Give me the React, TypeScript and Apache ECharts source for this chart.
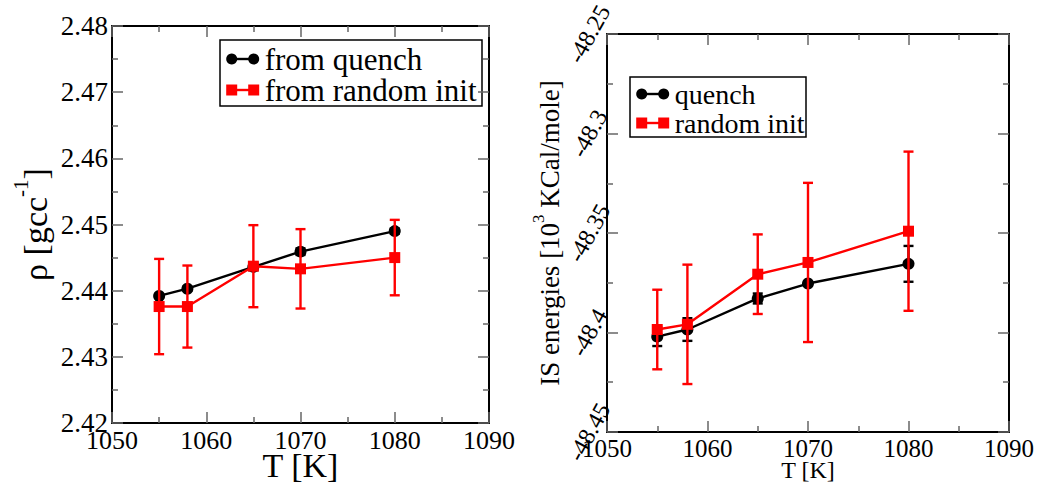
import React, { useEffect, useRef } from "react";
import * as echarts from "echarts";

const temps = [1055, 1058, 1065, 1070, 1080];
const rhoQuench = [2.4392, 2.4403, 2.4436, 2.4459, 2.449];
const rhoQuenchErr = [0.0003, 0.0003, 0.0005, 0.0005, 0.0004];
const rhoRandom = [2.4376, 2.4376, 2.4437, 2.4433, 2.445];
const rhoRandomErr = [0.0072, 0.0062, 0.0062, 0.006, 0.0057];
const eQuench = [-48.4021, -48.3985, -48.3829, -48.3754, -48.3655];
const eQuenchErr = [0.0047, 0.0057, 0.0025, 0.001, 0.009];
const eRandom = [-48.3985, -48.3959, -48.3707, -48.3648, -48.3491];
const eRandomErr = [0.02, 0.03, 0.02, 0.04, 0.04];

const xTicks = { min: 1050, max: 1090, interval: 10 };
const rhoTicks = { min: 2.42, max: 2.48, interval: 0.01 };
const eTicks = { min: -48.45, max: -48.25, interval: 0.05 };

const legendLeft = ["from quench", "from random init"];
const legendRight = ["quench", "random init"];

const FONT = "Liberation Serif";
const TICK = { color: "#666", width: 1.5 };

function axisBase(extra: any) {
  return {
    axisLine: { show: true, onZero: false, lineStyle: { color: "#000", width: 2 } },
    axisTick: { show: true, inside: true, length: 11, lineStyle: TICK },
    minorTick: { show: true, splitNumber: 2, length: 6, lineStyle: TICK },
    splitLine: { show: false },
    nameMoveOverlap: false,
    ...extra,
  };
}

function errSeries(xi: number, yi: number, vals: number[], errs: number[], color: string, z: number) {
  return {
    type: "custom",
    xAxisIndex: xi,
    yAxisIndex: yi,
    z,
    data: temps.map((t, i) => [t, vals[i] - errs[i], vals[i] + errs[i]]),
    encode: { x: 0, y: [1, 2] },
    renderItem: (params: any, api: any) => {
      const x = api.value(0);
      const p1 = api.coord([x, api.value(2)]);
      const p2 = api.coord([x, api.value(1)]);
      const w = 5;
      const st = { stroke: color, lineWidth: 2.4 };
      return {
        type: "group",
        children: [
          { type: "line", shape: { x1: p1[0], y1: p1[1], x2: p2[0], y2: p2[1] }, style: st },
          { type: "line", shape: { x1: p1[0] - w, y1: p1[1], x2: p1[0] + w, y2: p1[1] }, style: st },
          { type: "line", shape: { x1: p2[0] - w, y1: p2[1], x2: p2[0] + w, y2: p2[1] }, style: st },
        ],
      };
    },
  };
}

function lineSeries(xi: number, yi: number, vals: number[], color: string, symbol: string, z: number) {
  return {
    type: "line",
    xAxisIndex: xi,
    yAxisIndex: yi,
    z,
    data: temps.map((t, i) => [t, vals[i]]),
    symbol,
    symbolSize: symbol === "circle" ? 12 : 11,
    showSymbol: true,
    lineStyle: { color, width: 2.4 },
    itemStyle: { color },
  };
}

function legendGraphic(x: number, y: number, w: number, h: number, rows: number[], texts: string[], fontSize: number, symX: number[]) {
  const children: any[] = [
    { type: "rect", shape: { x, y, width: w, height: h }, style: { fill: "#fff", stroke: "#000", lineWidth: 1.5 } },
  ];
  children.push({ type: "line", shape: { x1: symX[0], y1: rows[0], x2: symX[1], y2: rows[0] }, style: { stroke: "#000", lineWidth: 2.4 } });
  children.push({ type: "circle", shape: { cx: symX[0], cy: rows[0], r: 5.5 }, style: { fill: "#000" } });
  children.push({ type: "circle", shape: { cx: symX[1], cy: rows[0], r: 5.5 }, style: { fill: "#000" } });
  children.push({ type: "line", shape: { x1: symX[0], y1: rows[1], x2: symX[1], y2: rows[1] }, style: { stroke: "#f00", lineWidth: 2.4 } });
  children.push({ type: "rect", shape: { x: symX[0] - 5.5, y: rows[1] - 5.5, width: 11, height: 11 }, style: { fill: "#f00" } });
  children.push({ type: "rect", shape: { x: symX[1] - 5.5, y: rows[1] - 5.5, width: 11, height: 11 }, style: { fill: "#f00" } });
  texts.forEach((t, i) => {
    children.push({
      type: "text",
      x: symX[1] + 11,
      y: rows[i],
      style: { text: t, font: `${fontSize}px ${FONT}`, fill: "#000", verticalAlign: "middle", align: "left" },
    });
  });
  return { type: "group", children, z: 100 };
}

export default function App() {
  const ref = useRef<HTMLDivElement>(null);
  useEffect(() => {
    document.body.style.margin = "0";
    const chart = echarts.init(ref.current!, undefined, { renderer: "svg" });
    const labelFont = { fontFamily: FONT, color: "#000" };
    const option: any = {
      animation: false,
      backgroundColor: "#fff",
      textStyle: { fontFamily: FONT },
      grid: [
        { left: 112, top: 26, width: 377, height: 397, outerBoundsMode: "none" },
        { left: 607, top: 34, width: 402, height: 398, outerBoundsMode: "none" },
      ],
      xAxis: [
        axisBase({
          type: "value", gridIndex: 0, position: "bottom", ...xTicks,
          axisLabel: { ...labelFont, fontSize: 26, margin: 4, showMinLabel: true, showMaxLabel: true, formatter: (v: number) => String(v) },
          name: "T [K]", nameLocation: "middle", nameGap: 25,
          nameTextStyle: { ...labelFont, fontSize: 34 },
        }),
        axisBase({ type: "value", gridIndex: 0, position: "top", ...xTicks, axisLabel: { show: false } }),
        axisBase({
          type: "value", gridIndex: 1, position: "bottom", ...xTicks,
          axisLabel: { ...labelFont, fontSize: 25, margin: 4, showMinLabel: true, showMaxLabel: true, formatter: (v: number) => String(v) },
          name: "T [K]", nameLocation: "middle", nameGap: 26,
          nameTextStyle: { ...labelFont, fontSize: 24 },
        }),
        axisBase({ type: "value", gridIndex: 1, position: "top", ...xTicks, axisLabel: { show: false } }),
      ],
      yAxis: [
        axisBase({
          type: "value", gridIndex: 0, position: "left", ...rhoTicks,
          axisLabel: { ...labelFont, fontSize: 27, margin: 4, showMinLabel: true, showMaxLabel: true, formatter: (v: number) => v.toFixed(2) },
          name: "{a|ρ [gcc}{s|-1}{a|]}", nameLocation: "middle", nameGap: 60,
          nameTextStyle: {
            ...labelFont, fontSize: 34,
            rich: {
              a: { fontFamily: FONT, fontSize: 34, color: "#000", lineHeight: 42, verticalAlign: "bottom" },
              s: { fontFamily: FONT, fontSize: 21, color: "#000", verticalAlign: "top" },
            },
          },
        }),
        axisBase({ type: "value", gridIndex: 0, position: "right", ...rhoTicks, axisLabel: { show: false } }),
        axisBase({
          type: "value", gridIndex: 1, position: "left", ...eTicks,
          axisLabel: {
            ...labelFont, fontSize: 24, margin: 18, rotate: 61, align: "center", verticalAlign: "middle",
            showMinLabel: true, showMaxLabel: true,
            formatter: (v: number) => String(parseFloat(v.toFixed(2))),
          },
          name: "{a|IS energies [10}{s|3}{a| KCal/mole]}", nameLocation: "middle", nameGap: 44,
          nameTextStyle: {
            ...labelFont, fontSize: 27,
            rich: {
              a: { fontFamily: FONT, fontSize: 27, color: "#000", lineHeight: 33, verticalAlign: "bottom" },
              s: { fontFamily: FONT, fontSize: 17, color: "#000", verticalAlign: "top" },
            },
          },
        }),
        axisBase({ type: "value", gridIndex: 1, position: "right", ...eTicks, axisLabel: { show: false } }),
      ],
      series: [
        lineSeries(0, 0, rhoQuench, "#000", "circle", 2),
        errSeries(0, 0, rhoQuench, rhoQuenchErr, "#000", 3),
        lineSeries(0, 0, rhoRandom, "#f00", "rect", 4),
        errSeries(0, 0, rhoRandom, rhoRandomErr, "#f00", 5),
        lineSeries(2, 2, eQuench, "#000", "circle", 2),
        errSeries(2, 2, eQuench, eQuenchErr, "#000", 3),
        lineSeries(2, 2, eRandom, "#f00", "rect", 4),
        errSeries(2, 2, eRandom, eRandomErr, "#f00", 5),
      ],
      graphic: [
        legendGraphic(220, 40, 262, 66, [59, 90], legendLeft, 31, [231.7, 253.7]),
        legendGraphic(630, 77, 176, 60, [94, 123], legendRight, 28, [641.7, 663.7]),
      ],
    };
    chart.setOption(option);
    return () => chart.dispose();
  }, []);
  return <div ref={ref} style={{ width: 1044, height: 484 }} />;
}
